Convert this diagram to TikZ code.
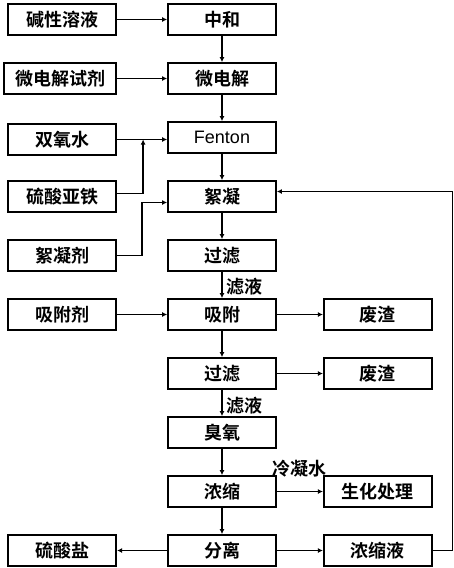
\documentclass[tikz,border=0pt]{standalone}
\usepackage{fontspec}
\setmainfont{Liberation Sans}
\newfontfamily\cjk{Noto Sans CJK SC}[BoldFont={Noto Sans CJK SC Bold}]
\usetikzlibrary{arrows.meta,positioning,calc}

\begin{document}
\begin{tikzpicture}[x=1pt, y=-1pt, node distance=26.2pt and 50pt, >={Latex[length=5pt,width=5pt]},
  every node/.style={align=center},
  box/.style={draw,line width=1.8pt,minimum width=108pt,minimum height=31pt,inner sep=2pt,font=\cjk\bfseries\fontsize{18}{20}\selectfont},
  flow/.style={->,line width=1.6pt},
  thin flow/.style={->,line width=0.9pt},
  note/.style={inner sep=1pt,font=\cjk\bfseries\fontsize{18}{20}\selectfont}]
\useasboundingbox (0,0) rectangle (453,568);
% main line
\node[box] (neut) at (222,19.5) {中和};
\node[box,below=of neut] (micro) {微电解};
\node[box,below=of micro,font=\fontsize{18}{20}\selectfont] (fenton) {Fenton};
\node[box,below=of fenton] (floc) {絮凝};
\node[box,below=of floc] (filt1) {过滤};
\node[box,below=of filt1] (ads) {吸附};
\node[box,below=of ads] (filt2) {过滤};
\node[box,below=of filt2] (ozone) {臭氧};
\node[box,below=of ozone] (conc) {浓缩};
\node[box,below=of conc] (sep) {分离};
% reagents on the left
\node[box,left=of neut] (alkali) {碱性溶液};
\node[box,left=of micro,minimum width=112pt] (microag) {微电解试剂};
\node[box,left=of fenton,yshift=-2pt] (perox) {双氧水};
\node[box,left=of floc] (ferrous) {硫酸亚铁};
\node[box,left=of filt1] (flocag) {絮凝剂};
\node[box,left=of ads] (adsag) {吸附剂};
\node[box,left=of sep] (sulfate) {硫酸盐};
% outputs on the right
\node[box,right=46pt of ads] (waste1) {废渣};
\node[box,right=46pt of filt2] (waste2) {废渣};
\node[box,right=46pt of conc] (bio) {生化处理};
\node[box,right=46pt of sep] (concliq) {浓缩液};
\coordinate (j1) at ([xshift=26pt]perox.east);
\draw[flow] (alkali) -- (neut);
\draw[flow] (neut) -- (micro);
\draw[flow] (microag) -- (micro);
\draw[flow] (micro) -- (fenton);
\draw[thin flow] (perox.east) -- (perox.east -| fenton.west);
\draw[flow] ([yshift=3pt]ferrous.east) -| (j1);
\draw[flow] (fenton) -- (floc);
\draw[flow] (flocag.east) -- ++(25pt,0) |- ([yshift=-6pt]floc.west);
\draw[flow] (floc) -- (filt1);
\draw[flow] (filt1) -- node[note,right=3pt,pos=0.55] {滤液} (ads);
\draw[thin flow] (adsag) -- (ads);
\draw[flow] (ads) -- (waste1);
\draw[flow] (ads) -- (filt2);
\draw[flow] (filt2) -- (waste2);
\draw[flow] (filt2) -- node[note,right=3pt,pos=0.6] {滤液} (ozone);
\draw[flow] (ozone) -- (conc);
\draw[flow] (conc) -- node[note,above=13pt] {冷凝水} (bio);
\draw[flow] (conc) -- (sep);
\draw[flow] (sep) -- (sulfate);
\draw[flow] (sep) -- (concliq);
\draw[->,line width=1.2pt] (concliq.east) -- ++(20pt,0) |- ([yshift=5pt]floc.east);
\end{tikzpicture}
\end{document}
